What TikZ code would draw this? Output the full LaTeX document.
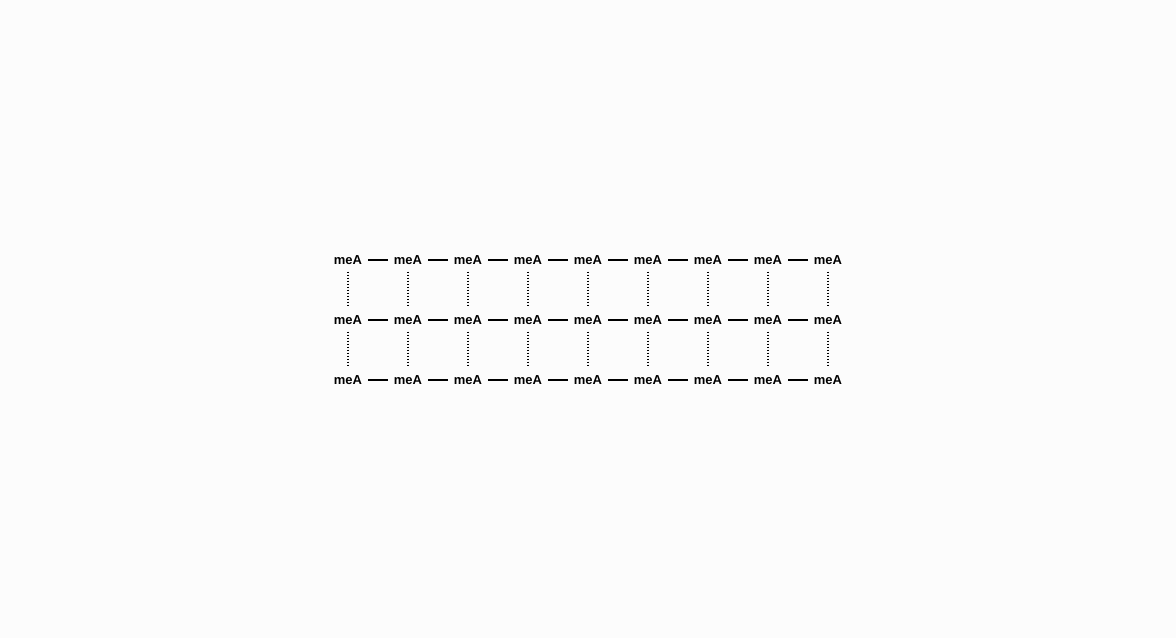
\documentclass[tikz,border=0pt]{standalone}
\usepackage{fontspec}
\setmainfont{Liberation Sans}
\usetikzlibrary{positioning}
\definecolor{mBack}{HTML}{FCFCFC}

\begin{document}
\begin{tikzpicture}[x=1pt, y=-1pt,
      n/.style={font=\fontsize{13}{15}\selectfont\bfseries, inner sep=6pt},
      link/.style={line width=1.5pt},
      pair/.style={line width=1.3pt, dash pattern=on 1.5pt off 1.5pt}]
    \fill[mBack] (0,0) rectangle (1176,638);
    \useasboundingbox (0,0) rectangle (1176,638);
    \foreach \i in {0,...,2} {
      \foreach \j in {0,...,8} {
        \node[n] (m-\i-\j) at (348+60*\j, 260+60*\i) {meA};
      }
    }
    % strands
    \foreach \i in {0,...,2} {
      \foreach \j in {0,...,7} {
        \pgfmathtruncatemacro{\k}{\j+1}
        \draw[link] (m-\i-\j) -- (m-\i-\k);
      }
    }
    % rungs
    \foreach \i in {0,1} {
      \pgfmathtruncatemacro{\k}{\i+1}
      \foreach \j in {0,...,8} {
        \draw[pair, shorten <=1pt, shorten >=2pt] (m-\i-\j) -- (m-\k-\j);
      }
    }
  \end{tikzpicture}
\end{document}
